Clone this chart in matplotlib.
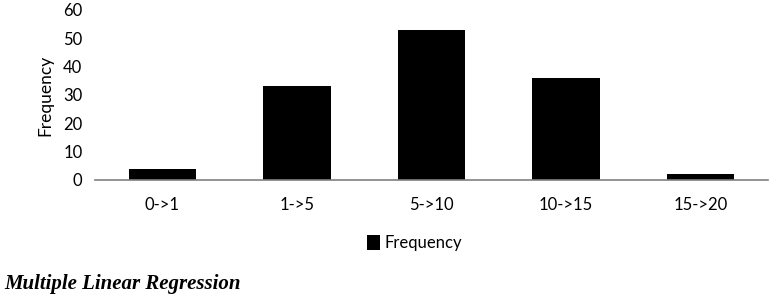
import matplotlib
matplotlib.use("Agg")
import matplotlib.pyplot as plt

categories = ["0->1", "1->5", "5->10", "10->15", "15->20"]
frequency = [4, 33, 53, 36, 2]

plt.rcParams['font.family'] = ['Lato', 'DejaVu Sans']

fig = plt.figure(figsize=(7.72, 3.0), dpi=100)
ax = fig.add_axes([95 / 772, 0.4, 673 / 772, 0.5667])

ax.bar(range(len(categories)), frequency, width=0.5, color="black", label="Frequency")
ax.set_xlim(-0.5, len(categories) - 0.5)
ax.set_ylim(0, 60)
ax.set_yticks(range(0, 61, 10))
ax.set_xticks(range(len(categories)))
ax.set_xticklabels(categories)

for s in ["top", "right", "left"]:
    ax.spines[s].set_visible(False)
ax.spines["bottom"].set_color("#808080")
ax.spines["bottom"].set_linewidth(1.2)
ax.tick_params(axis="both", length=0, labelsize=12)
ax.tick_params(axis="x", pad=12)
ax.tick_params(axis="y", pad=9)
ax.set_ylabel("Frequency", fontsize=12.5, labelpad=7)

ax.legend(loc="center", bbox_to_anchor=(0.475, -0.37), frameon=False,
          fontsize=12, handlelength=0.75, handleheight=1.0, handletextpad=0.3)

fig.text(0.006, 0.035, "Multiple Linear Regression", family="Liberation Serif",
         weight="bold", style="italic", fontsize=15)

fig.savefig("out.png", dpi=100)
